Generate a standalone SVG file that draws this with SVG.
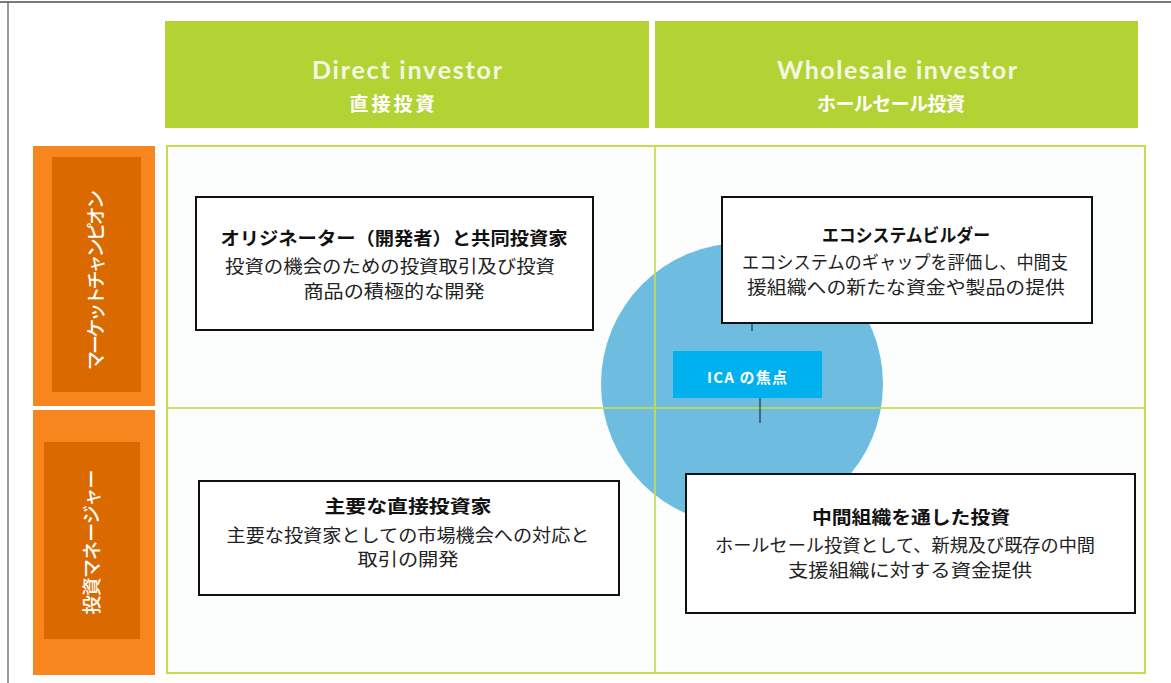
<svg xmlns="http://www.w3.org/2000/svg" width="1171" height="683" viewBox="0 0 1171 683">
<style>
.hdr{fill:#b3d335}
.en{font-family:Lato,"Open Sans","Liberation Sans",sans-serif;font-weight:700;font-size:25px;fill:#f3f8e4;text-anchor:middle}
.jph{font-family:"Noto Sans CJK JP",sans-serif;font-weight:700;font-size:19px;fill:#ffffff;text-anchor:middle}
.orOut{fill:#f7861f}
.orIn{fill:#da6a00}
.vt{font-family:"Noto Sans CJK JP",sans-serif;font-weight:500;font-size:19px;fill:#ffffff;text-anchor:middle}
.cell{fill:#fcfdfd;stroke:none}
.gl{stroke:#c6dd4e;stroke-width:2;fill:none}
.box{fill:#ffffff;stroke:#111111;stroke-width:2}
.bt{font-family:"Noto Sans CJK JP",sans-serif;font-weight:700;font-size:18px;fill:#111111;text-anchor:middle}
.bx{font-family:"Noto Sans CJK JP",sans-serif;font-weight:400;font-size:18px;fill:#222222;text-anchor:middle}
.tick{stroke:#2d5566;stroke-width:1.5}
</style>
<rect x="0" y="0" width="1171" height="683" fill="#ffffff"/>
<g id="frame">
<line x1="0" y1="2" x2="1171" y2="2" stroke="#7a7a7a" stroke-width="2"/>
<line x1="8" y1="2" x2="8" y2="683" stroke="#7a7a7a" stroke-width="1.5"/>
</g>
<g id="header-direct">
<rect class="hdr" x="165" y="21" width="484" height="107"/>
<text class="en" x="407" y="79" textLength="190">Direct investor</text>
<text class="jph" x="392" y="111" textLength="85">直接投資</text>
</g>
<g id="header-wholesale">
<rect class="hdr" x="655" y="21" width="483" height="107"/>
<text class="en" x="897" y="79" textLength="240">Wholesale investor</text>
<text class="jph" x="891" y="111" textLength="148">ホールセール投資</text>
</g>
<g id="row-market-champion">
<rect class="orOut" x="33" y="146" width="122" height="260"/>
<rect class="orIn" x="52" y="157" width="89" height="235"/>
<text class="vt" transform="translate(96,280) rotate(-90)" x="0" y="7" textLength="180">マーケットチャンピオン</text>
</g>
<g id="row-investment-manager">
<rect class="orOut" x="33" y="410" width="122" height="265"/>
<rect class="orIn" x="44" y="442" width="96" height="197"/>
<text class="vt" transform="translate(92,542) rotate(-90)" x="0" y="7" textLength="145" font-weight="700">投資マネージャー</text>
</g>
<g id="grid-cells">
<rect class="cell" x="167" y="146" width="977" height="526"/>
</g>
<g id="ica-focus-area">
<circle cx="742" cy="384" r="141" fill="#6ebde0"/>
</g>
<g id="grid-lines">
<rect class="gl" x="167" y="146" width="978" height="527"/>
<line class="gl" x1="655" y1="146" x2="655" y2="673" stroke-opacity="0.85"/>
<line class="gl" x1="167" y1="408" x2="1145" y2="408" stroke-opacity="0.85"/>
</g>
<g id="connectors">
<line class="tick" x1="760" y1="398" x2="760" y2="423"/>
<line class="tick" x1="752" y1="323" x2="752" y2="331"/>
</g>
<g id="ica-label">
<rect x="673" y="351" width="149" height="47" fill="#00b1ef"/>
<text x="747" y="383" font-family="'Noto Sans CJK JP',sans-serif" font-weight="700" font-size="15" fill="#ffffff" text-anchor="middle" textLength="80">ICA の焦点</text>
</g>
<g id="box-originator">
<rect class="box" x="196" y="197" width="397" height="133"/>
<text class="bt" x="394" y="245" textLength="347" lengthAdjust="spacingAndGlyphs">オリジネーター（開発者）と共同投資家</text>
<text class="bx" x="390" y="273" textLength="330" lengthAdjust="spacingAndGlyphs">投資の機会のための投資取引及び投資</text>
<text class="bx" x="394" y="298" textLength="181" lengthAdjust="spacingAndGlyphs">商品の積極的な開発</text>
</g>
<g id="box-ecosystem">
<rect class="box" x="722" y="197" width="370" height="126"/>
<text class="bt" x="906" y="242" textLength="168" lengthAdjust="spacingAndGlyphs">エコシステムビルダー</text>
<text class="bx" x="905" y="269" textLength="326" lengthAdjust="spacingAndGlyphs">エコシステムのギャップを評価し、中間支</text>
<text class="bx" x="906" y="294" textLength="318" lengthAdjust="spacingAndGlyphs">援組織への新たな資金や製品の提供</text>
</g>
<g id="box-lead-investor">
<rect class="box" x="199" y="481" width="420" height="114"/>
<text class="bt" x="408" y="513" textLength="167" lengthAdjust="spacingAndGlyphs">主要な直接投資家</text>
<text class="bx" x="408" y="542" textLength="363" lengthAdjust="spacingAndGlyphs">主要な投資家としての市場機会への対応と</text>
<text class="bx" x="408" y="566" textLength="101" lengthAdjust="spacingAndGlyphs">取引の開発</text>
</g>
<g id="box-intermediary">
<rect class="box" x="686" y="474" width="449" height="139"/>
<text class="bt" x="911" y="524" textLength="198" lengthAdjust="spacingAndGlyphs">中間組織を通した投資</text>
<text class="bx" x="905" y="552" textLength="380" lengthAdjust="spacingAndGlyphs">ホールセール投資として、新規及び既存の中間</text>
<text class="bx" x="910" y="577" textLength="244" lengthAdjust="spacingAndGlyphs">支援組織に対する資金提供</text>
</g>
</svg>
